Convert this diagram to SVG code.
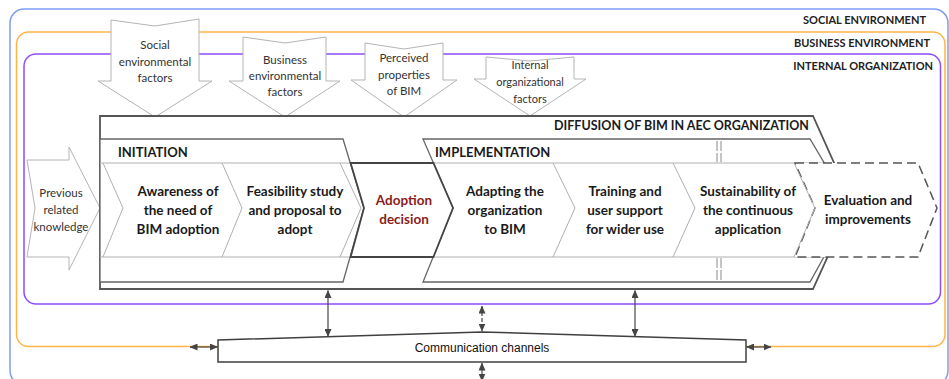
<svg xmlns="http://www.w3.org/2000/svg" width="949" height="379" viewBox="0 0 949 379">
  <style>
    .env { fill: none; stroke-width: 1.5; }
    .envlbl { font-family: Lato, "Liberation Sans", sans-serif; font-weight: bold; font-size: 11px; fill: #222; text-anchor: end; }
    .factor { fill: #fff; stroke: #b4b4b4; stroke-width: 1; }
    .ftxt { font-family: Lato, "Liberation Sans", sans-serif; font-size: 11.5px; fill: #333; text-anchor: middle; }
    .phase { fill: #fff; stroke: #666; stroke-width: 1.3; }
    .step { fill: none; stroke: #b0b0b0; stroke-width: 1; }
    .stxt { font-family: Lato, "Liberation Sans", sans-serif; font-weight: bold; font-size: 13.5px; fill: #1a1a1a; text-anchor: middle; }
    .head { font-family: Lato, "Liberation Sans", sans-serif; font-weight: bold; font-size: 13px; fill: #1a1a1a; }
    .conn { stroke: #454545; stroke-width: 1.2; fill: none; marker-start: url(#ah); marker-end: url(#ah); }
  </style>
  <defs>
    <marker id="ah" viewBox="0 0 8 7" markerWidth="8" markerHeight="7" refX="7.5" refY="3.5" orient="auto-start-reverse" markerUnits="userSpaceOnUse">
      <path d="M0,0 L8,3.5 L0,7 z" fill="#454545"/>
    </marker>
  </defs>

  <!-- environment layers -->
  <g id="social-environment">
    <rect class="env" x="10" y="9" width="938" height="376" rx="14" stroke="#7f9df6"/>
    <text class="envlbl" x="926" y="24">SOCIAL ENVIRONMENT</text>
  </g>
  <g id="business-environment">
    <rect class="env" x="16.5" y="32" width="928.5" height="314.5" rx="12" stroke="#ffb547"/>
    <text class="envlbl" x="930" y="47">BUSINESS ENVIRONMENT</text>
  </g>
  <g id="internal-organization">
    <rect class="env" x="24" y="54" width="916.5" height="250" rx="12" stroke="#8f4cff"/>
    <text class="envlbl" x="933" y="70">INTERNAL ORGANIZATION</text>
  </g>

  <!-- influencing factors -->
  <g id="social-factors">
    <polygon class="factor" points="111,20 155,26 199,19 199,81 212,81 155,117 98,81 111,81"/>
    <text class="ftxt" x="155" y="49">Social</text>
    <text class="ftxt" x="155" y="66">environmental</text>
    <text class="ftxt" x="155" y="82">factors</text>
  </g>
  <g id="business-factors">
    <polygon class="factor" points="243,37 285,43 326,37 326,81 340,81 285,117 229,81 243,81"/>
    <text class="ftxt" x="285" y="64">Business</text>
    <text class="ftxt" x="285" y="80">environmental</text>
    <text class="ftxt" x="285" y="96">factors</text>
  </g>
  <g id="perceived-properties">
    <polygon class="factor" points="365,43 404,49 443,43 443,80 457,80 404,117 351,80 365,80"/>
    <text class="ftxt" x="404" y="62">Perceived</text>
    <text class="ftxt" x="404" y="79">properties</text>
    <text class="ftxt" x="404" y="95">of BIM</text>
  </g>
  <g id="internal-factors">
    <polygon class="factor" points="486,57 530,61 574,57 574,79 586,79 530,116 474,79 486,79"/>
    <text class="ftxt" x="530" y="69" style="font-size:11px">Internal</text>
    <text class="ftxt" x="530" y="86" style="font-size:11px">organizational</text>
    <text class="ftxt" x="530" y="103" style="font-size:11px">factors</text>
  </g>

  <g id="previous-knowledge">
    <polygon class="factor" points="27,160 69,160 69,147 100,208 69,270 69,257 27,257 35,208"/>
    <text class="ftxt" x="61" y="197">Previous</text>
    <text class="ftxt" x="61" y="214">related</text>
    <text class="ftxt" x="61" y="231">knowledge</text>
  </g>

  <!-- diffusion process -->
  <g id="diffusion">
    <polygon points="100,116 813,116 852,203 813,289 100,289" fill="#fff" stroke="#555" stroke-width="1.8"/>
    <text class="head" x="809" y="130" text-anchor="end" style="font-size:12.5px">DIFFUSION OF BIM IN AEC ORGANIZATION</text>
  </g>

  <g id="initiation">
    <polygon class="phase" points="100,139 343,139 364,208 343,282 100,282"/>
    <text class="head" x="118" y="157">INITIATION</text>
    <line class="step" x1="100" y1="163" x2="350" y2="163"/>
    <line class="step" x1="100" y1="257" x2="350" y2="257"/>
  </g>

  <g id="implementation">
    <polygon class="phase" points="423,139 810,139 851,208 810,282 423,282 453,208"/>
    <text class="head" x="435" y="157">IMPLEMENTATION</text>
    <line class="step" x1="433" y1="163" x2="826" y2="163"/>
    <line class="step" x1="433" y1="257" x2="826" y2="257"/>
    <!-- phase break marks -->
    <g stroke="#8a8a8a" stroke-width="1" stroke-dasharray="10 2">
      <line x1="717" y1="141" x2="717" y2="162"/>
      <line x1="721" y1="141" x2="721" y2="162"/>
      <line x1="717" y1="258" x2="717" y2="280"/>
      <line x1="721" y1="258" x2="721" y2="280"/>
    </g>
  </g>

  <g id="awareness">
    <polyline class="step" points="103,163 123,208 103,257"/>
    <polyline class="step" points="222,163 242,208 222,257"/>
    <text class="stxt" x="178" y="196">Awareness of</text>
    <text class="stxt" x="178" y="215">the need of</text>
    <text class="stxt" x="178" y="234">BIM adoption</text>
  </g>
  <g id="feasibility">
    <polyline class="step" points="340,163 361,208 340,257"/>
    <text class="stxt" x="295" y="196">Feasibility study</text>
    <text class="stxt" x="295" y="215">and proposal to</text>
    <text class="stxt" x="295" y="234">adopt</text>
  </g>
  <g id="adoption-decision">
    <polygon points="350.6,163 433.4,163 453,208 433.4,257 350.6,257 364,208" fill="#fff" stroke="#444" stroke-width="1.8"/>
    <text class="stxt" x="404" y="205" style="fill:#8b1c1c">Adoption</text>
    <text class="stxt" x="404" y="224" style="fill:#8b1c1c">decision</text>
  </g>
  <g id="adapting">
    <polyline class="step" points="553,163 575,208 553,257"/>
    <text class="stxt" x="505" y="196">Adapting the</text>
    <text class="stxt" x="505" y="215">organization</text>
    <text class="stxt" x="505" y="234">to BIM</text>
  </g>
  <g id="training">
    <polyline class="step" points="673,163 695,208 673,257"/>
    <text class="stxt" x="625" y="196">Training and</text>
    <text class="stxt" x="625" y="215">user support</text>
    <text class="stxt" x="625" y="234">for wider use</text>
  </g>
  <g id="sustainability">
    <text class="stxt" x="748" y="196">Sustainability of</text>
    <text class="stxt" x="748" y="215">the continuous</text>
    <text class="stxt" x="748" y="234">application</text>
  </g>
  <g id="evaluation">
    <polygon points="795,163 918,163 937,208 918,257 795,257 815,208" fill="#fff" stroke="#555" stroke-width="1.5" stroke-dasharray="9 5"/>
    <polyline class="step" points="794,163 815,208 794,257"/>
    <text class="stxt" x="868" y="205">Evaluation and</text>
    <text class="stxt" x="868" y="224">improvements</text>
  </g>

  <!-- communication -->
  <g id="communication-channels">
    <polygon points="218,340 482,332 746,340 746,362 218,362" fill="#fff" stroke="#404040" stroke-width="1.5"/>
    <text x="482" y="351.5" text-anchor="middle" font-family="'Liberation Sans', Arial, sans-serif" font-size="12" fill="#111">Communication channels</text>
  </g>

  <g id="connectors">
    <line class="conn" x1="328" y1="290.5" x2="328" y2="336.5"/>
    <line class="conn" x1="635" y1="290.5" x2="635" y2="336.5"/>
    <line class="conn" x1="482" y1="306" x2="482" y2="331" stroke-dasharray="4 2"/>
    <line class="conn" x1="482" y1="363" x2="482" y2="381"/>
    <line class="conn" x1="190" y1="347" x2="217.5" y2="347"/>
    <line class="conn" x1="746.5" y1="347" x2="771" y2="347"/>
  </g>
</svg>
